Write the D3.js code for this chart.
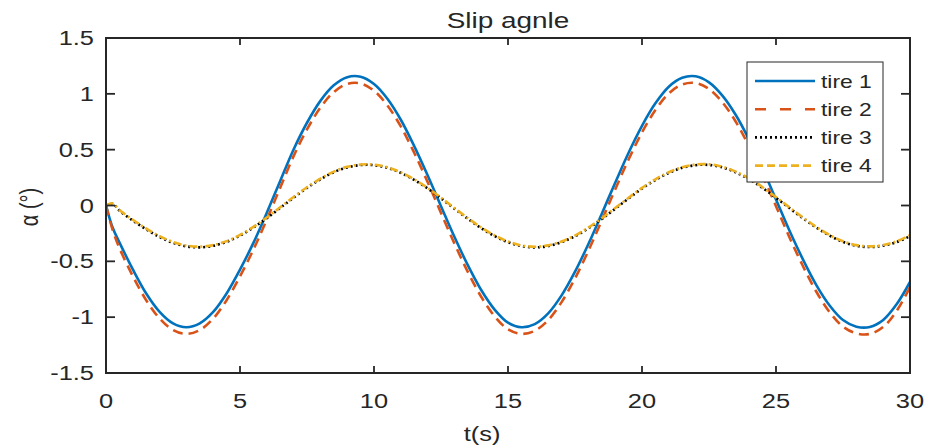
<!DOCTYPE html>
<html>
<head>
<meta charset="utf-8">
<script src="https://cdn.jsdelivr.net/npm/d3@7"></script>
<style>
  body { margin: 0; background: #fff; }
  text { font-family: "Liberation Sans", Arial, sans-serif; fill: #262626; }
</style>
</head>
<body>
<div class="chart"></div>
<script>
var svgWidth = 926;
var svgHeight = 448;

var margin = { top: 38, right: 16, bottom: 75, left: 106 };
var width = svgWidth - margin.left - margin.right;
var height = svgHeight - margin.top - margin.bottom;

// the picture is stretched sideways, so text is too
var stretch = 1.27;

// Data
var time = [0, 0.25, 0.5, 1, 1.5, 2, 2.5, 3, 3.5, 4, 4.5, 5, 5.5, 6, 6.5, 7, 7.5, 8, 8.5, 9, 9.5, 10,
  10.5, 11, 11.5, 12, 12.5, 13, 13.5, 14, 14.5, 15, 15.5, 16, 16.5, 17, 17.5, 18, 18.5, 19, 19.5, 20,
  20.5, 21, 21.5, 22, 22.5, 23, 23.5, 24, 24.5, 25, 25.5, 26, 26.5, 27, 27.5, 28, 28.5, 29, 29.5, 30];

var tire1 = [0, -0.20, -0.33, -0.572, -0.788, -0.952, -1.055, -1.090, -1.055, -0.953, -0.788, -0.574, -0.335, -0.065,
  0.22, 0.502, 0.741, 0.937, 1.076, 1.149, 1.153, 1.088, 0.956, 0.768, 0.532, 0.271, -0.006, -0.280,
  -0.534, -0.757, -0.932, -1.049, -1.090, -1.062, -0.966, -0.805, -0.593, -0.345, -0.073, 0.204, 0.473, 0.714,
  0.915, 1.064, 1.144, 1.157, 1.103, 0.984, 0.810, 0.587, 0.329, 0.054, -0.224, -0.480, -0.710, -0.895,
  -1.025, -1.085, -1.088, -1.025, -0.885, -0.685];

var tire2 = [0, -0.22, -0.38, -0.632, -0.848, -1.012, -1.115, -1.150, -1.115, -1.013, -0.848, -0.634, -0.395, -0.125,
  0.16, 0.442, 0.681, 0.877, 1.016, 1.089, 1.093, 1.028, 0.896, 0.708, 0.472, 0.211, -0.066, -0.340,
  -0.594, -0.817, -0.992, -1.109, -1.150, -1.122, -1.026, -0.865, -0.653, -0.405, -0.133, 0.144, 0.413, 0.654,
  0.855, 1.004, 1.084, 1.097, 1.043, 0.924, 0.750, 0.527, 0.269, -0.006, -0.284, -0.540, -0.770, -0.955,
  -1.085, -1.145, -1.150, -1.088, -0.945, -0.730];

var tire3 = [0, 0.015, -0.045, -0.135, -0.213, -0.282, -0.334, -0.366, -0.375, -0.361, -0.325, -0.269, -0.197, -0.113,
  -0.022, 0.070, 0.158, 0.235, 0.298, 0.341, 0.362, 0.361, 0.337, 0.292, 0.229, 0.153, 0.064, -0.028,
  -0.119, -0.203, -0.274, -0.328, -0.363, -0.375, -0.363, -0.328, -0.275, -0.204, -0.120, -0.029, 0.063, 0.152,
  0.229, 0.292, 0.337, 0.361, 0.363, 0.341, 0.297, 0.235, 0.157, 0.069, -0.023, -0.113, -0.197, -0.270,
  -0.326, -0.361, -0.372, -0.360, -0.328, -0.275];

var tire4 = [0, 0.018, -0.04, -0.128, -0.206, -0.275, -0.327, -0.359, -0.368, -0.355, -0.319, -0.263, -0.191, -0.107,
  -0.016, 0.076, 0.163, 0.240, 0.303, 0.346, 0.367, 0.366, 0.342, 0.297, 0.234, 0.158, 0.069, -0.022,
  -0.113, -0.197, -0.268, -0.322, -0.357, -0.369, -0.357, -0.322, -0.269, -0.198, -0.114, -0.023, 0.069, 0.158,
  0.235, 0.298, 0.343, 0.367, 0.369, 0.347, 0.303, 0.241, 0.163, 0.075, -0.017, -0.107, -0.191, -0.264,
  -0.320, -0.355, -0.366, -0.354, -0.321, -0.266];

var xTicks = [0, 5, 10, 15, 20, 25, 30];
var yTicks = [-1.5, -1, -0.5, 0, 0.5, 1, 1.5];
var seriesNames = ["tire 1", "tire 2", "tire 3", "tire 4"];

var series = [
  { name: seriesNames[0], values: tire1, color: "#0072BD", dash: null, legendDash: null },
  { name: seriesNames[1], values: tire2, color: "#D95319", dash: "10,6", legendDash: "11,14" },
  { name: seriesNames[2], values: tire3, color: "#000000", dash: "2,3", legendDash: "2,3" },
  { name: seriesNames[3], values: tire4, color: "#EDB120", dash: "8,3,2,3", legendDash: "8,4" }
];

var svg = d3.select(".chart")
  .append("svg")
  .attr("width", svgWidth)
  .attr("height", svgHeight);

var chartGroup = svg.append("g")
  .attr("transform", `translate(${margin.left}, ${margin.top})`);

function stretchedText(g, x, y, str, size, anchor) {
  return g.append("text")
    .attr("transform", `translate(${x}, ${y}) scale(${stretch}, 1)`)
    .attr("text-anchor", anchor)
    .attr("font-size", size)
    .text(str);
}

var xScale = d3.scaleLinear().domain([0, 30]).range([0, width]);
var yScale = d3.scaleLinear().domain([-1.5, 1.5]).range([height, 0]);

// clip the lines to the axes box
chartGroup.append("defs").append("clipPath")
  .attr("id", "clip")
  .append("rect")
  .attr("width", width)
  .attr("height", height);

var line = d3.line()
  .x(function(d, i) { return xScale(time[i]); })
  .y(function(d) { return yScale(d); })
  .curve(d3.curveCatmullRom.alpha(0.5));

series.forEach(function(s) {
  chartGroup.append("path")
    .attr("clip-path", "url(#clip)")
    .attr("d", line(s.values))
    .attr("fill", "none")
    .attr("stroke", s.color)
    .attr("stroke-width", 2.6)
    .attr("stroke-dasharray", s.dash);
});

// ticks, inward on all four sides
var axisColor = "#262626";
xTicks.forEach(function(t) {
  var x = xScale(t);
  chartGroup.append("line").attr("x1", x).attr("x2", x).attr("y1", height).attr("y2", height - 7)
    .attr("stroke", axisColor).attr("stroke-width", 1.8);
  chartGroup.append("line").attr("x1", x).attr("x2", x).attr("y1", 0).attr("y2", 7)
    .attr("stroke", axisColor).attr("stroke-width", 1.8);
  stretchedText(chartGroup, x, height + 35, t, 20, "middle");
});
yTicks.forEach(function(t) {
  var y = yScale(t);
  chartGroup.append("line").attr("x1", 0).attr("x2", 9).attr("y1", y).attr("y2", y)
    .attr("stroke", axisColor).attr("stroke-width", 1.8);
  chartGroup.append("line").attr("x1", width).attr("x2", width - 9).attr("y1", y).attr("y2", y)
    .attr("stroke", axisColor).attr("stroke-width", 1.8);
  stretchedText(chartGroup, -12, y + 7, t, 20, "end");
});

chartGroup.append("rect")
  .attr("width", width)
  .attr("height", height)
  .attr("fill", "none")
  .attr("stroke", axisColor)
  .attr("stroke-width", 2);

// title and axis labels
stretchedText(svg, margin.left + width / 2, 28, "Slip agnle", 22, "middle");
stretchedText(svg, 482, 441, "t(s)", 20, "middle");
svg.append("text")
  .attr("transform", `translate(38, 207) scale(${stretch}, 1) rotate(-90)`)
  .attr("text-anchor", "middle")
  .attr("font-size", 20)
  .text("α (°)");

// legend
var lx = 747 - margin.left, ly = 62 - margin.top;
var legend = chartGroup.append("g").attr("transform", `translate(${lx}, ${ly})`);
legend.append("rect")
  .attr("width", 136)
  .attr("height", 120)
  .attr("fill", "#fff")
  .attr("stroke", "#262626")
  .attr("stroke-width", 1);

series.forEach(function(s, i) {
  var y = 19 + i * 28.2;
  legend.append("line")
    .attr("x1", 8).attr("x2", 68).attr("y1", y).attr("y2", y)
    .attr("stroke", s.color)
    .attr("stroke-width", 2.6)
    .attr("stroke-dasharray", s.legendDash);
  stretchedText(legend, 74, y + 6.5, s.name, 18, "start");
});
</script>
</body>
</html>
